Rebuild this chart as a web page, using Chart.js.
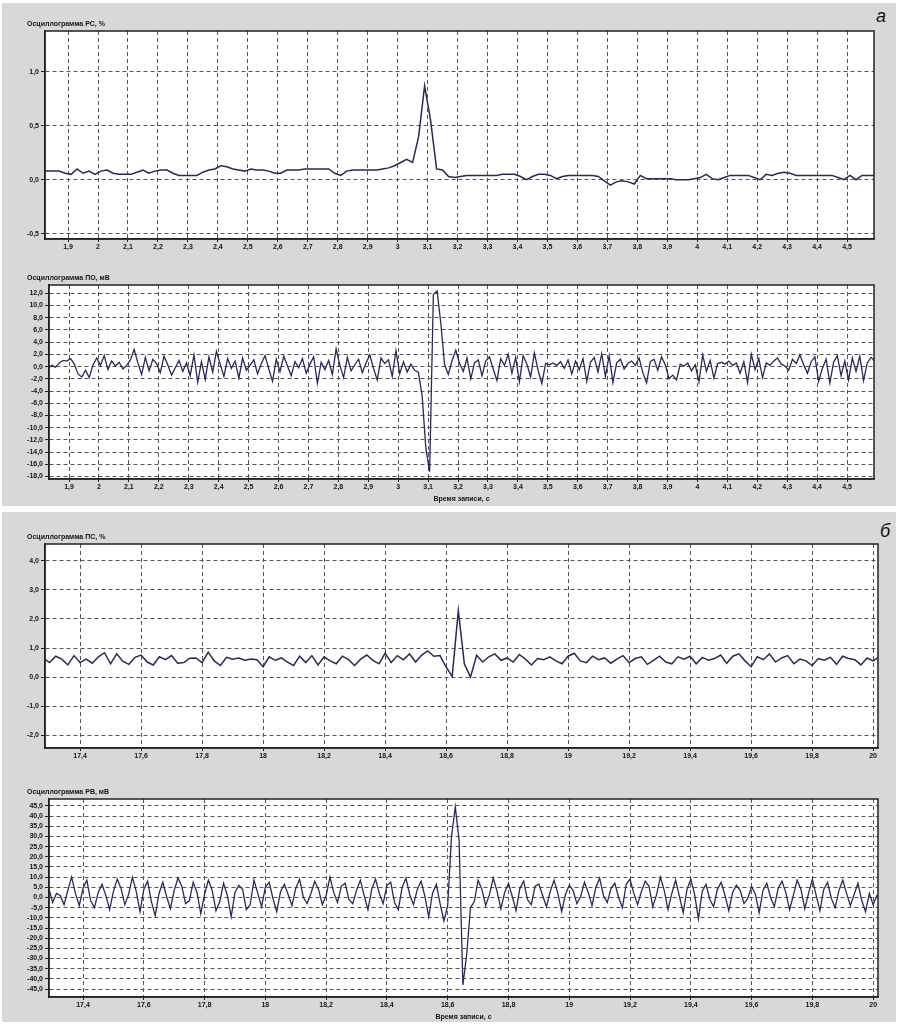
<!DOCTYPE html>
<html>
<head>
<meta charset="utf-8">
<script src="https://cdn.jsdelivr.net/npm/chart.js@4.4.1/dist/chart.umd.min.js"></script>
<style>
body{margin:0;background:#fff;width:901px;height:1025px;position:relative;overflow:hidden;font-family:"Liberation Sans",Arial,sans-serif}
.panel{position:absolute;left:2px;width:894px;background:#d8d8d8}
canvas{position:absolute}
.letter{position:absolute;font-style:italic;font-size:18px;color:#111}
</style>
</head>
<body>
<div class="panel" style="top:3px;height:503px"></div>
<div class="panel" style="top:512px;height:510px"></div>
<div class="letter" style="left:876px;top:6px">а</div>
<div class="letter" style="left:880px;top:521px">б</div>
<canvas id="chartA1"></canvas>
<canvas id="chartA2"></canvas>
<canvas id="chartB1"></canvas>
<canvas id="chartB2"></canvas>
<script>
// tick values
var timeTicksA = [1.9,2,2.1,2.2,2.3,2.4,2.5,2.6,2.7,2.8,2.9,3,3.1,3.2,3.3,3.4,3.5,3.6,3.7,3.8,3.9,4,4.1,4.2,4.3,4.4,4.5];
var timeTicksB = [17.4,17.6,17.8,18,18.2,18.4,18.6,18.8,19,19.2,19.4,19.6,19.8,20];
var levelTicksA1 = [-0.5,0,0.5,1];
var levelTicksA2 = [-18,-16,-14,-12,-10,-8,-6,-4,-2,0,2,4,6,8,10,12];
var levelTicksB1 = [-2,-1,0,1,2,3,4];
var levelTicksB2 = [-45,-40,-35,-30,-25,-20,-15,-10,-5,0,5,10,15,20,25,30,35,40,45];

// recording start time and sample step (s)
var rsStartA = 1.81, rsStepA = 0.02;
var poStartA = 1.83, poStepA = 0.0125;
var psStartB = 17.28, psStepB = 0.02;
var rvStartB = 17.2875, rvStepB = 0.0125;

// РС, %  (panel а, top)
var rsPercentA = [0.08,0.08,0.08,0.08,0.06,0.05,0.10,0.06,0.08,0.05,
 0.08,0.09,0.06,0.05,0.05,0.05,0.07,0.09,0.06,0.08,
 0.09,0.09,0.06,0.04,0.04,0.04,0.04,0.07,0.09,0.10,
 0.13,0.12,0.10,0.09,0.08,0.10,0.09,0.09,0.08,0.06,
 0.06,0.09,0.09,0.09,0.10,0.10,0.10,0.10,0.10,0.06,
 0.04,0.08,0.09,0.09,0.09,0.09,0.09,0.10,0.11,0.13,
 0.16,0.19,0.16,0.40,0.87,0.55,0.10,0.09,0.03,0.02,
 0.03,0.04,0.04,0.04,0.04,0.04,0.04,0.05,0.05,0.05,
 0.03,0.00,0.03,0.05,0.05,0.04,0.01,0.03,0.04,0.04,
 0.04,0.04,0.04,0.03,-0.01,-0.05,-0.02,-0.01,-0.02,-0.04,
 0.04,0.01,0.01,0.01,0.01,0.01,0.00,0.00,0.00,0.01,
 0.02,0.05,0.01,0.00,0.02,0.04,0.04,0.04,0.04,0.02,
 0.00,0.05,0.04,0.06,0.07,0.06,0.04,0.04,0.04,0.04,
 0.04,0.04,0.04,0.02,0.00,0.04,0.00,0.04,0.04,0.04];

// ПО, мВ  (panel а, bottom)
var poMvA = [-0.3,0.2,-0.1,0.6,1.0,0.9,1.3,0.4,-1.2,-1.7,
 -0.6,-1.8,0.3,1.4,0.2,1.8,-0.5,0.9,0.1,0.7,
 -0.4,0.2,1.1,2.8,0.6,-1.3,1.5,-0.7,1.2,0.5,
 -1.0,1.7,0.3,-1.4,-0.2,1.0,-0.8,0.6,-1.5,1.9,
 -2.6,0.8,-2.1,1.6,-0.9,2.5,0.4,-1.6,1.3,-0.3,
 0.9,-1.9,1.4,-0.6,0.2,1.1,-1.2,0.5,1.8,-0.4,
 -2.4,1.2,-0.8,1.7,0.1,-1.5,0.8,-0.2,1.3,-1.1,
 0.4,1.6,-2.7,0.7,-0.5,1.0,-1.3,2.9,0.2,-1.8,
 1.5,-0.7,0.3,1.2,-1.0,0.6,1.9,-0.3,-2.2,1.4,
 0.5,1.1,-1.6,2.6,-1.2,0.8,-0.9,0.4,-0.6,-0.9,
 -4.8,-13.4,-17.2,11.8,12.4,7.0,0.3,-1.3,1.0,2.7,
 0.5,-0.8,1.4,-2.0,0.6,1.1,-1.5,0.9,1.6,-0.4,
 -2.3,1.3,0.2,2.0,-1.1,1.5,-2.5,1.8,0.4,-1.7,
 2.2,-0.6,-2.8,0.5,0.3,0.6,0.2,0.8,-0.3,1.1,
 -1.2,0.9,-0.5,1.3,-2.4,0.7,1.5,-0.9,2.1,-1.6,
 1.8,-2.6,0.6,1.2,-0.4,0.5,0.9,0.2,1.4,-1.0,
 -2.7,0.8,1.2,-0.6,1.6,0.3,-2.0,-1.4,-2.2,0.4,
 0.1,0.6,-0.7,0.3,-2.5,1.9,-0.8,1.0,-1.9,0.5,
 0.7,0.4,0.9,0.2,0.6,-1.1,0.8,-2.6,2.0,-0.5,
 1.3,-1.8,0.6,0.2,0.9,1.4,0.4,0.1,-0.6,1.2,
 0.5,1.9,0.3,-1.1,0.8,1.6,-2.4,-0.3,1.2,-2.7,
 0.7,1.8,-1.5,0.9,-2.2,1.4,-0.8,1.7,-2.3,0.6,
 1.5,0.9];

// ПС, %  (panel б, top)
var psPercentB = [0.65,0.50,0.72,0.62,0.42,0.74,0.50,0.62,0.48,0.70,
 0.84,0.46,0.80,0.55,0.44,0.68,0.76,0.52,0.42,0.70,
 0.60,0.74,0.48,0.50,0.65,0.66,0.50,0.86,0.56,0.40,
 0.68,0.62,0.66,0.58,0.62,0.60,0.36,0.70,0.58,0.66,
 0.52,0.40,0.72,0.50,0.74,0.42,0.70,0.56,0.46,0.72,
 0.60,0.40,0.62,0.76,0.58,0.46,0.82,0.50,0.74,0.60,
 0.80,0.52,0.76,0.90,0.72,0.74,0.35,0.02,2.28,0.45,
 0.00,0.75,0.52,0.70,0.80,0.58,0.66,0.52,0.78,0.62,
 0.42,0.64,0.60,0.70,0.56,0.46,0.72,0.82,0.56,0.50,
 0.72,0.60,0.66,0.48,0.62,0.74,0.50,0.64,0.70,0.44,
 0.58,0.72,0.52,0.46,0.70,0.62,0.72,0.46,0.68,0.58,
 0.64,0.76,0.48,0.72,0.80,0.56,0.36,0.70,0.60,0.80,
 0.52,0.66,0.74,0.46,0.62,0.56,0.40,0.64,0.58,0.68,
 0.44,0.72,0.64,0.60,0.42,0.66,0.56,0.70];

// РВ, мВ  (panel б, bottom)
var rvMvB = [4.5,-2.5,2.0,1.0,-3.5,3.5,10.0,2.0,-4.0,4.5,
 8.5,-1.5,-5.0,2.5,6.5,1.0,-6.0,3.0,9.0,4.5,
 -3.5,1.5,10.0,3.0,-7.0,4.0,8.0,-2.0,-9.0,2.0,
 7.5,0.5,-5.5,3.5,9.5,5.5,-3.0,-1.5,7.5,2.5,
 -8.0,1.5,8.5,3.5,-6.5,-2.0,7.0,1.0,-9.5,2.5,
 6.0,4.0,-6.0,-3.5,8.5,2.0,-4.5,5.0,7.5,-0.5,
 -7.0,3.0,6.5,1.5,-4.0,4.5,9.0,0.0,-3.0,2.0,
 8.0,4.0,-3.5,1.0,10.0,2.5,-2.5,5.5,7.0,-1.0,
 -3.0,3.5,8.5,1.0,-6.0,4.0,9.0,2.0,-3.0,6.0,
 7.5,-2.5,-6.0,5.0,9.5,1.5,-3.5,4.0,8.0,0.5,
 -9.5,2.0,6.5,-3.0,-11.5,-4.0,30.0,44.5,28.0,-43.0,
 -28.0,-5.0,-2.0,8.5,4.0,
 -4.0,1.5,9.5,3.0,-5.5,2.5,7.0,0.5,-6.5,4.5,
 8.0,-1.0,-3.5,5.5,6.5,1.0,-4.5,3.0,8.5,2.0,
 -7.0,1.5,6.0,3.5,-3.0,0.5,7.5,2.5,-4.0,5.0,
 9.5,1.0,-2.5,4.5,7.0,0.0,-5.0,6.5,9.0,2.0,
 -3.5,3.0,8.0,5.5,-4.5,1.5,10.0,3.5,-6.0,2.0,
 8.5,0.5,-7.5,4.0,9.0,1.5,-10.5,3.0,6.5,-1.0,
 -4.5,4.0,7.5,1.0,-6.5,2.5,6.0,3.5,-3.0,-0.5,
 5.5,1.5,-7.5,3.5,7.0,0.0,-4.5,4.5,8.0,2.5,
 -6.0,1.0,8.5,4.0,-5.5,2.0,9.0,1.0,-6.5,4.0,
 7.5,-0.5,-5.0,3.5,8.5,2.0,-4.0,1.5,7.0,-1.5,
 -7.0,2.0,-3.5,1.0,0.5];

var FONT = '"Liberation Sans", Arial, sans-serif';
var INK = '#151515';

function samples(start, step, values) {
    return values.map(function (v, i) { return {x: +(start + i * step).toFixed(4), y: v}; });
}
function fmtTime(v) {
    return Number.isInteger(v) ? String(v) : String(v).replace('.', ',');
}
function fmtLevel(v) {
    return v.toFixed(1).replace('.', ',');
}

// white plot area + closed frame
var frame = {
    id: 'frame',
    beforeDraw: function (chart) {
        var a = chart.chartArea, c = chart.ctx;
        c.save(); c.fillStyle = '#fff';
        c.fillRect(a.left, a.top, a.right - a.left, a.bottom - a.top);
        c.restore();
    },
    afterDraw: function (chart) {
        var a = chart.chartArea, c = chart.ctx;
        c.save(); c.strokeStyle = '#222'; c.lineWidth = 1.5;
        c.strokeRect(a.left, a.top, a.right - a.left, a.bottom - a.top);
        c.restore();
    }
};

function scope(id, box, xh, xr, yr, xTicks, yTicks, title, xTitle, points, lw) {
    var cv = document.getElementById(id);
    var left = 20;
    cv.width = box.R + 4 - left;
    cv.height = 17 + (box.B - box.T) + xh;
    cv.style.left = left + 'px';
    cv.style.top = (box.T - 17) + 'px';
    var tickFont = {family: FONT, size: 7, weight: 'bold'};
    return new Chart(cv, {
        type: 'line',
        data: {
            datasets: [{
                data: points,
                borderColor: '#28285c',
                borderWidth: lw,
                pointRadius: 0,
                tension: 0,
                fill: false
            }]
        },
        options: {
            responsive: false,
            animation: false,
            devicePixelRatio: 1,
            layout: {padding: {left: 7, right: 4, top: 0, bottom: 0}},
            plugins: {
                legend: {display: false},
                tooltip: {enabled: false},
                title: {
                    display: true, text: title, align: 'start', color: INK,
                    font: {family: FONT, size: 7, weight: 'bold'},
                    padding: {top: 6, bottom: 2.6}
                }
            },
            scales: {
                x: {
                    type: 'linear', min: xr[0], max: xr[1],
                    afterFit: function (s) { s.height = xh; },
                    afterBuildTicks: function (s) { s.ticks = xTicks.map(function (v) { return {value: v}; }); },
                    ticks: {callback: fmtTime, font: tickFont, color: INK, padding: 1, maxRotation: 0, autoSkip: false},
                    grid: {color: '#555', lineWidth: 1, tickColor: '#222', tickLength: 3},
                    border: {color: '#222', width: 1.5, dash: [4, 3]},
                    title: xTitle ? {display: true, text: xTitle, color: INK, font: tickFont, padding: {top: 1, bottom: 2}} : {display: false}
                },
                y: {
                    type: 'linear', min: yr[0], max: yr[1],
                    afterFit: function (s) { s.width = box.L - left - 7; },
                    afterBuildTicks: function (s) { s.ticks = yTicks.map(function (v) { return {value: v}; }); },
                    ticks: {callback: fmtLevel, font: tickFont, color: INK, padding: 2, autoSkip: false},
                    grid: {color: '#555', lineWidth: 1, tickColor: '#222', tickLength: 4},
                    border: {color: '#222', width: 1.5, dash: [4, 3]}
                }
            }
        },
        plugins: [frame]
    });
}

scope('chartA1', {L: 45, T: 31, R: 874, B: 239}, 16, [1.823, 4.59], [-0.55, 1.38],
    timeTicksA, levelTicksA1, 'Осциллограмма РС, %', null,
    samples(rsStartA, rsStepA, rsPercentA), 1.5);

scope('chartA2', {L: 49, T: 285, R: 874, B: 479}, 26, [1.833, 4.59], [-18.4, 13.35],
    timeTicksA, levelTicksA2, 'Осциллограмма ПО, мВ', 'Время записи, с',
    samples(poStartA, poStepA, poMvA), 1.3);

scope('chartB1', {L: 45, T: 544, R: 878, B: 748}, 16, [17.285, 20.016], [-2.43, 4.57],
    timeTicksB, levelTicksB1, 'Осциллограмма ПС, %', null,
    samples(psStartB, psStepB, psPercentB), 1.5);

scope('chartB2', {L: 49, T: 799, R: 878, B: 997}, 26, [17.288, 20.016], [-48.9, 48.4],
    timeTicksB, levelTicksB2, 'Осциллограмма РВ, мВ', 'Время записи, с',
    samples(rvStartB, rvStepB, rvMvB), 1.3);
</script>
</body>
</html>
